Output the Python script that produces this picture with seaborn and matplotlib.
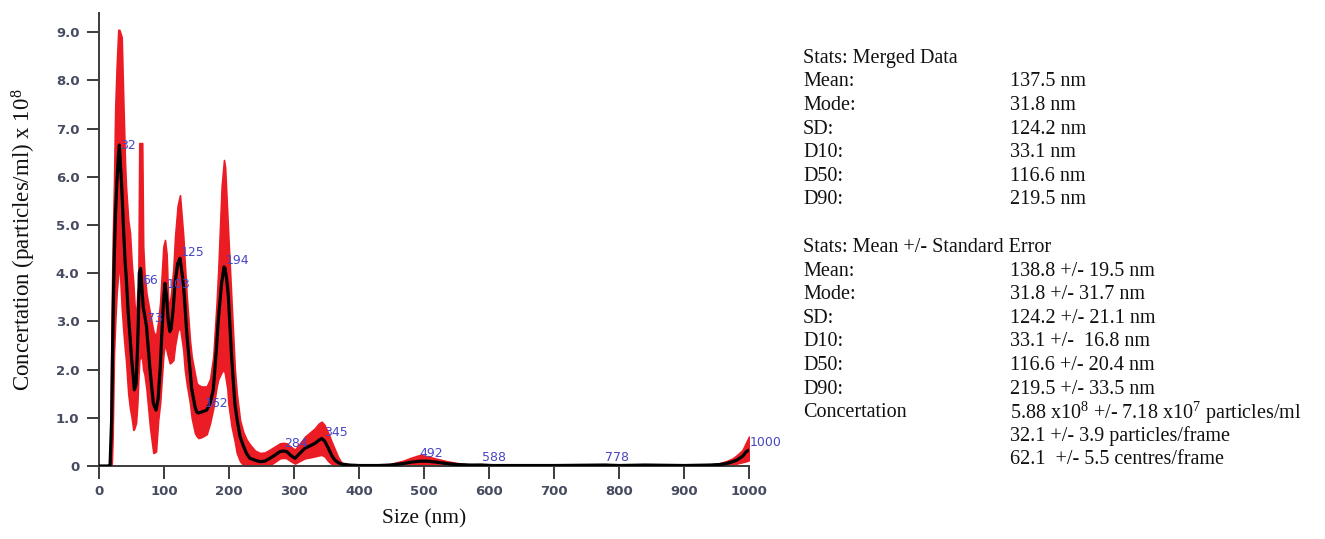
import numpy as np
import pandas as pd
import matplotlib
matplotlib.use("Agg")
import matplotlib.pyplot as plt
import seaborn as sns

# Particle size distribution (NTA): mean concentration and +/- standard error envelope
size_nm = [0, 15, 17, 19.5, 21, 23, 25, 27.2, 29.7, 31.3, 34.9, 37.5, 40, 41.5, 45, 47.7,
           50.3, 52.8, 54.4, 57, 59, 60.5, 62, 64, 66.5, 68, 70, 73, 78.5, 83.6, 87.7, 91,
           94, 99, 101.5, 104, 106.6, 109, 111, 114.4, 117, 121, 124.6, 129.7, 132, 135,
           140, 142.6, 147.7, 150.3, 153, 158, 165.7, 170.8, 175.8, 181, 183.5, 188.7,
           192.3, 194, 197.5, 199, 204, 209, 212, 217, 222, 227, 232, 240, 247.7, 255,
           263, 270, 278.5, 284, 288.7, 295, 301.5, 308, 317, 325, 332, 338, 342.6, 347,
           352.8, 358, 363, 368, 373, 385, 400, 430, 448, 468, 480, 494, 505, 519.5, 535,
           551, 570, 588, 605, 700, 778, 800, 840, 900, 940, 955, 965, 975, 981, 990, 996,
           1000]

conc_mean = [0, 0, 0, 1.0, 2.5, 4.07, 5.1, 5.8, 6.4, 6.66, 5.8, 5.0, 4.27, 4.0, 3.17, 2.7,
             2.2, 1.85, 1.58, 1.7, 2.34, 3.0, 4.0, 4.1, 3.6, 3.3, 3.15, 2.9, 2.0, 1.3, 1.16, 1.4,
             2.0, 3.38, 3.79, 3.5, 3.0, 2.79, 2.85, 3.3, 3.8, 4.2, 4.31, 3.8, 3.38, 2.76,
             2.0, 1.6, 1.23, 1.12, 1.1, 1.12, 1.16, 1.3, 1.58, 2.5, 3.03, 3.8,
             4.13, 4.1, 3.75, 3.51, 2.27, 1.3, 1.0, 0.61, 0.42, 0.26, 0.16, 0.12, 0.09, 0.1,
             0.16, 0.22, 0.30, 0.31, 0.30, 0.22, 0.16, 0.25, 0.37, 0.42, 0.47, 0.53, 0.57, 0.52,
             0.37, 0.22, 0.12, 0.07, 0.04, 0.02, 0.01, 0.01, 0.02, 0.05, 0.08, 0.10, 0.10, 0.08, 0.05,
             0.03, 0.02, 0.02, 0.01, 0.01, 0.02, 0.01, 0.02, 0.01, 0.02, 0.03, 0.05, 0.09, 0.12, 0.2, 0.3,
             0.33]

conc_upper = [0, 0, 0.1, 3.2, 4.6, 5.8, 7.45, 8.3, 9.05, 9.05, 8.9, 7.53, 6.3, 5.8, 5.1, 4.83,
              4.2, 3.8, 3.4, 3.03, 3.6, 3.72, 6.7, 6.7, 6.7, 4.55, 4.0, 3.58, 3.17, 2.8, 2.68, 3.0,
              3.38, 4.55, 4.69, 4.4, 3.38, 3.4, 3.6, 4.1, 4.76, 5.4, 5.62, 4.76, 4.2, 3.51,
              2.6, 2.27, 1.9, 1.72, 1.68, 1.65, 1.65, 1.8, 2.27, 3.4, 4.07, 5.8,
              6.35, 6.2, 5.2, 4.76, 3.38, 2.0, 1.5, 0.95, 0.7, 0.55, 0.45, 0.32, 0.27, 0.28,
              0.34, 0.4, 0.47, 0.48, 0.47, 0.4, 0.34, 0.45, 0.61, 0.7, 0.78, 0.88, 0.92, 0.85,
              0.68, 0.5, 0.34, 0.18, 0.07, 0.03, 0.02, 0.02, 0.04, 0.11, 0.17, 0.23, 0.2, 0.15, 0.1,
              0.06, 0.03, 0.04, 0.02, 0.02, 0.03, 0.02, 0.03, 0.02, 0.03, 0.06, 0.1, 0.16, 0.22, 0.33, 0.5,
              0.61]

conc_lower = [0, 0, 0, 0, 0.6, 2.3, 3.0, 3.6, 4.0, 4.3, 3.3, 2.8, 2.4, 2.2, 1.5, 1.2,
              1.0, 0.75, 0.78, 0.9, 1.3, 1.8, 2.2, 2.3, 2.2, 2.0, 1.9, 1.6, 0.8, 0.27, 0.3, 0.95,
              1.3, 2.3, 2.55, 2.4, 2.25, 2.13, 2.15, 2.2, 2.5, 2.8, 2.89, 2.4, 2.0, 1.7,
              1.3, 1.0, 0.68, 0.62, 0.58, 0.6, 0.66, 0.89, 1.2, 1.65, 1.8, 1.95,
              2.0, 1.9, 1.6, 1.3, 0.82, 0.5, 0.27, 0.1, 0.02, 0, 0, 0, 0, 0,
              0.02, 0.08, 0.16, 0.17, 0.16, 0.1, 0.05, 0.1, 0.16, 0.18, 0.2, 0.22, 0.23, 0.2,
              0.1, 0.04, 0, 0, 0, 0, 0, 0, 0, 0.01, 0.02, 0.03, 0.03, 0.02, 0.01,
              0, 0, 0, 0, 0, 0, 0, 0, 0, 0, 0, 0.01, 0.03, 0.05, 0.08, 0.1,
              0.12]

# Labelled peak positions (nm)
peak_sizes = [32, 66, 73, 103, 125, 162, 194, 284, 345, 492, 588, 778, 1000]

x_ticks = [0, 100, 200, 300, 400, 500, 600, 700, 800, 900, 1000]
y_ticks = [0, 1, 2, 3, 4, 5, 6, 7, 8, 9]
y_ticklabels = ["0", "1.0", "2.0", "3.0", "4.0", "5.0", "6.0", "7.0", "8.0", "9.0"]

stats_merged = [("Mean:", "137.5 nm"), ("Mode:", "31.8 nm"), ("SD:", "124.2 nm"),
                ("D10:", "33.1 nm"), ("D50:", "116.6 nm"), ("D90:", "219.5 nm")]
stats_se = [("Mean:", "138.8 +/- 19.5 nm"), ("Mode:", "31.8 +/- 31.7 nm"),
            ("SD:", "124.2 +/- 21.1 nm"), ("D10:", "33.1 +/-  16.8 nm"),
            ("D50:", "116.6 +/- 20.4 nm"), ("D90:", "219.5 +/- 33.5 nm"),
            ("Concertation", r"5.88 x10$^{8}$ +/- 7.18 x10$^{7}$ particles/ml"),
            ("", "32.1 +/- 3.9 particles/frame"),
            ("", "62.1  +/- 5.5 centres/frame")]

df = pd.DataFrame({"size": size_nm, "mean": conc_mean,
                   "upper": conc_upper, "lower": conc_lower})

sns.set_style("ticks")
plt.rcParams["mathtext.fontset"] = "custom"
plt.rcParams["mathtext.rm"] = "Liberation Serif"
plt.rcParams["mathtext.it"] = "Liberation Serif:italic"

W, H = 1325, 539
fig = plt.figure(figsize=(W / 100, H / 100), dpi=100)
ax = fig.add_axes([99 / W, 1 - 466 / H, 650 / W, 453 / H])

red = "#ec1c24"
ax.fill_between(df["size"], df["lower"], df["upper"], color=red, linewidth=1.2,
                edgecolor=red, zorder=2)
sns.lineplot(data=df, x="size", y="mean", ax=ax, color="black", linewidth=2.3,
             zorder=3, sort=False)

label_color = "#4646c4"
for p in peak_sizes:
    yv = float(np.interp(p, df["size"], df["mean"]))
    ax.text(p + 1, yv + 0.02, str(p), color=label_color, fontsize=9,
            family="DejaVu Sans", ha="left", va="bottom", zorder=4, clip_on=False)

ax.set_xlim(0, 1000)
ax.set_ylim(0, 9.4)
ax.set_xticks(x_ticks)
ax.set_xticklabels([str(t) for t in x_ticks])
ax.set_yticks(y_ticks)
ax.set_yticklabels(y_ticklabels)

spine_color = "#3c3c3c"
for s in ["top", "right"]:
    ax.spines[s].set_visible(False)
for s in ["left", "bottom"]:
    ax.spines[s].set_color(spine_color)
    ax.spines[s].set_linewidth(1.4)
ax.tick_params(axis="both", direction="out", length=9, width=1.4, color=spine_color,
               labelsize=9.5, labelcolor="#464b60", pad=5)
for lab in ax.get_xticklabels() + ax.get_yticklabels():
    lab.set_fontweight("bold")
    lab.set_family("DejaVu Sans")

ax.set_xlabel("Size (nm)", family="Liberation Serif", fontsize=15.5, color="#111111")
ax.set_ylabel(r"Concertation (particles/ml) x 10$^{8}$", family="Liberation Serif",
              fontsize=16.5, color="#111111")
ax.xaxis.set_label_coords(0.5, -0.095)
ax.yaxis.set_label_coords(-0.094, 0.5)

# Statistics panel
txt_kw = dict(family="Liberation Serif", fontsize=14.5, color="#111111", va="center")
x_lab, x_val = 803 / W, 1010 / W
fig.text(x_lab, 1 - 59 / H, "Stats: Merged Data", **txt_kw)
y0, dy = 82, 23.6
for i, (k, v) in enumerate(stats_merged):
    yy = 1 - (y0 + i * dy) / H
    fig.text(x_lab, yy, k, **txt_kw)
    fig.text(x_val, yy, v, **txt_kw)

fig.text(x_lab, 1 - 247 / H, "Stats: Mean +/- Standard Error", **txt_kw)
y1 = 271
for i, (k, v) in enumerate(stats_se):
    yy = 1 - (y1 + i * dy) / H
    if k:
        fig.text(x_lab, yy, k, **txt_kw)
    fig.text(x_val, yy, v, **txt_kw)

fig.savefig("out.png", dpi=100, facecolor="white")
